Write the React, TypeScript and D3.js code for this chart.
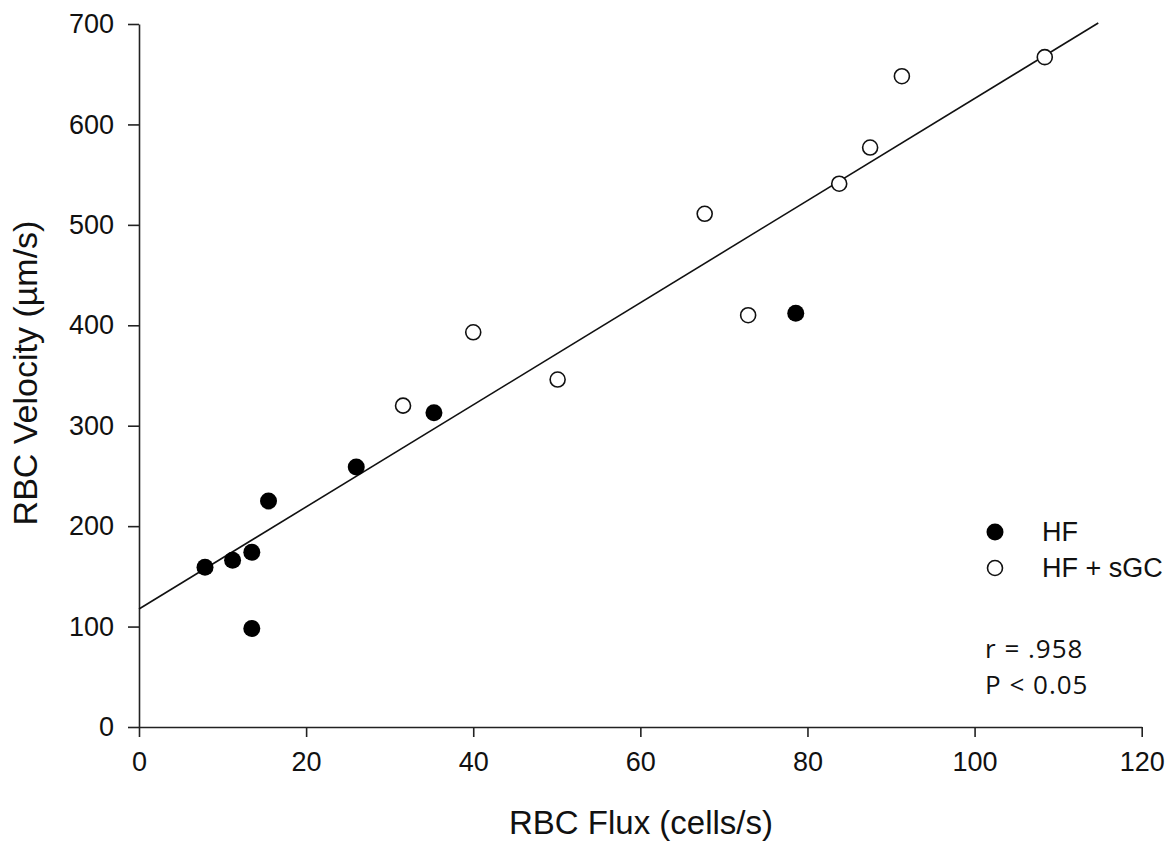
import { useRef, useEffect } from "react";
import * as d3 from "d3";

// HF group (filled circles)
const hfFlux = [7.9, 11.2, 13.5, 13.5, 15.5, 26, 35.3, 78.6];
const hfVelocity = [159, 166, 174, 98, 225, 259, 313, 412];

// HF + sGC group (open circles)
const sgcFlux = [31.6, 40, 50.1, 67.7, 72.9, 83.8, 87.5, 91.3, 108.4];
const sgcVelocity = [320, 393, 346, 511, 410, 541, 577, 648, 667];

// regression line end points
const fitFlux = [0, 114.8];
const fitVelocity = [117.5, 701];

const xTicks = [0, 20, 40, 60, 80, 100, 120];
const yTicks = [0, 100, 200, 300, 400, 500, 600, 700];

const W = 1175;
const H = 846;

const App = () => {
  const svgRef = useRef<SVGSVGElement>(null);

  useEffect(() => {
    const svg = d3.select(svgRef.current);
    svg.selectAll("*").remove();

    const x = d3.scaleLinear().domain([0, 120]).range([139, 1141.7]);
    const y = d3.scaleLinear().domain([0, 700]).range([727, 24]);

    const axisColor = "#222";
    const font = "'Liberation Sans', Arial, sans-serif";

    // x axis
    const gx = svg
      .append("g")
      .attr("transform", `translate(0,${y(0)})`)
      .call(d3.axisBottom(x).tickValues(xTicks).tickSize(10).tickPadding(8).tickSizeOuter(0));
    // y axis
    const gy = svg
      .append("g")
      .attr("transform", `translate(${x(0)},0)`)
      .call(d3.axisLeft(y).tickValues(yTicks).tickSize(11).tickPadding(14).tickSizeOuter(0));

    [gx, gy].forEach((g) => {
      g.select(".domain").attr("stroke", axisColor).attr("stroke-width", 1.6);
      g.selectAll(".tick line").attr("stroke", axisColor).attr("stroke-width", 1.6);
      g.selectAll(".tick text")
        .attr("fill", "#111")
        .attr("font-family", font)
        .attr("font-size", 27);
    });
    gx.selectAll(".tick text").attr("dy", "0.95em");

    // regression line
    svg
      .append("path")
      .datum(fitFlux.map((f, i) => [f, fitVelocity[i]] as [number, number]))
      .attr("fill", "none")
      .attr("stroke", "#111")
      .attr("stroke-width", 1.6)
      .attr(
        "d",
        d3
          .line<[number, number]>()
          .x((d) => x(d[0]))
          .y((d) => y(d[1]))
      );

    // open points
    svg
      .append("g")
      .selectAll("circle")
      .data(sgcFlux.map((f, i) => ({ f, v: sgcVelocity[i] })))
      .join("circle")
      .attr("cx", (d) => x(d.f))
      .attr("cy", (d) => y(d.v))
      .attr("r", 7.5)
      .attr("fill", "#fff")
      .attr("stroke", "#111")
      .attr("stroke-width", 1.6);

    // filled points
    svg
      .append("g")
      .selectAll("circle")
      .data(hfFlux.map((f, i) => ({ f, v: hfVelocity[i] })))
      .join("circle")
      .attr("cx", (d) => x(d.f))
      .attr("cy", (d) => y(d.v))
      .attr("r", 8.5)
      .attr("fill", "#000");

    // axis titles
    svg
      .append("text")
      .attr("x", 641)
      .attr("y", 834)
      .attr("text-anchor", "middle")
      .attr("font-family", font)
      .attr("font-size", 33)
      .attr("fill", "#111")
      .text("RBC Flux (cells/s)");

    svg
      .append("text")
      .attr("transform", "translate(37,373) rotate(-90)")
      .attr("text-anchor", "middle")
      .attr("font-family", font)
      .attr("font-size", 34)
      .attr("fill", "#111")
      .text("RBC Velocity (µm/s)");

    // legend
    const legend = svg.append("g");
    legend
      .append("circle")
      .attr("cx", 995)
      .attr("cy", 532)
      .attr("r", 8.5)
      .attr("fill", "#000");
    legend
      .append("circle")
      .attr("cx", 995)
      .attr("cy", 568)
      .attr("r", 7.5)
      .attr("fill", "#fff")
      .attr("stroke", "#111")
      .attr("stroke-width", 1.6);
    legend
      .append("text")
      .attr("x", 1042)
      .attr("y", 541)
      .attr("font-family", font)
      .attr("font-size", 27)
      .attr("fill", "#111")
      .text("HF");
    legend
      .append("text")
      .attr("x", 1042)
      .attr("y", 577)
      .attr("font-family", font)
      .attr("font-size", 27)
      .attr("fill", "#111")
      .text("HF + sGC");

    // stats
    const statFont = "'Open Sans', sans-serif";
    svg
      .append("text")
      .attr("x", 985)
      .attr("y", 658)
      .attr("font-family", statFont)
      .attr("font-size", 26)
      .attr("letter-spacing", 1)
      .attr("fill", "#111")
      .text("r = .958");
    svg
      .append("text")
      .attr("x", 985)
      .attr("y", 694)
      .attr("font-family", statFont)
      .attr("font-size", 26)
      .attr("letter-spacing", 1)
      .attr("fill", "#111")
      .text("P < 0.05");
  }, []);

  return (
    <svg
      ref={svgRef}
      width={W}
      height={H}
      style={{ position: "absolute", left: 0, top: 0, background: "#fff" }}
    ></svg>
  );
};

export default App;
